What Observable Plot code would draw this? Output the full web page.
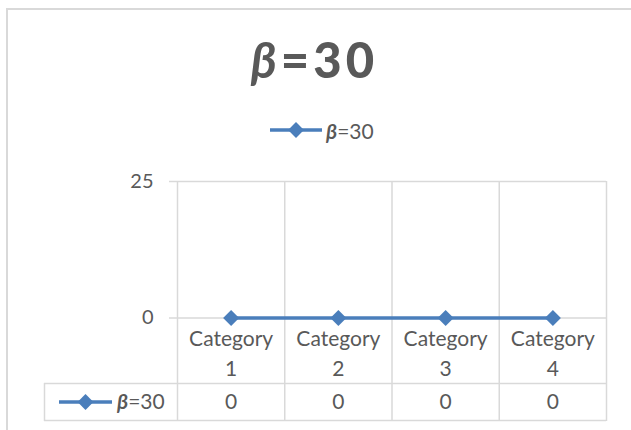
<!DOCTYPE html>
<html>
<head>
<meta charset="utf-8">
<script src="https://cdn.jsdelivr.net/npm/d3@7"></script>
<script src="https://cdn.jsdelivr.net/npm/@observablehq/plot@0.6"></script>
<style>
  html, body { margin: 0; padding: 0; background: #fff; overflow: hidden; }
  #chart { position: relative; width: 631px; height: 430px; overflow: hidden;
           font-family: Lato, "Open Sans", sans-serif; color: #595959; }
  #border { position: absolute; left: 6px; top: 8px; width: 800px; height: 600px;
            border-left: 2px solid #d9d9d9; border-top: 2px solid #d9d9d9; }
  #title { position: absolute; left: 0; width: 625px; top: 35px; text-align: center;
           font-size: 49px; font-weight: 900; letter-spacing: 4px; padding-left: 4px;
           box-sizing: border-box; line-height: 1; }
  #legend { position: absolute; left: 270px; top: 118px; height: 24px;
            display: flex; align-items: center; font-size: 21px; }
  #legend svg { margin-right: 4px; }
  .beta { font-weight: 700; font-style: italic; }
  #plot { position: absolute; left: 0; top: 150px; }
</style>
</head>
<body>
<div id="chart">
  <div id="border"></div>
  <div id="title"></div>
  <div id="legend"></div>
  <div id="plot"></div>
</div>
<script>
// Series and categories
const categories = ["Category 1", "Category 2", "Category 3", "Category 4"];
const seriesName = "β=30";
const values = [0, 0, 0, 0];
const yTicks = [0, 25];

const blue = "#4a7ebb";
const grid = "#d9d9d9";
const ink = "#595959";

// Title and legend with the Greek letter set in bold italic
function betaLabel(el) {
  el.append("span").attr("class", "beta").text(seriesName.slice(0, 1));
  el.append("span").text(seriesName.slice(1));
}
betaLabel(d3.select("#title"));

const legend = d3.select("#legend");
const key = legend.append("svg").attr("width", 52).attr("height", 20);
key.append("line").attr("x1", 0).attr("x2", 52).attr("y1", 10).attr("y2", 10)
   .attr("stroke", blue).attr("stroke-width", 3.5);
key.append("path").attr("transform", "translate(26,10)")
   .attr("d", d3.symbol(d3.symbolDiamond2, 160)()).attr("fill", blue);
betaLabel(legend.append("span"));

const data = categories.map((c, i) => ({category: c, index: i + 1, value: values[i]}));
const bounds = d3.range(categories.length + 1).map(i => i + 0.5);

// Data table under the axis: borders and the series key in the first column
function dataTable(index, scales, channels, dims) {
  const {width, height, marginRight, marginBottom} = dims;
  const bottom = height - marginBottom;
  const top = bottom - 38;
  const left = 44;
  const right = width - marginRight;
  const g = d3.create("svg:g");
  g.append("path")
    .attr("d", `M${left},${top + 0.5}H${right}M${left},${bottom - 0.5}H${right}M${left + 0.5},${top}V${bottom}`)
    .attr("fill", "none").attr("stroke", grid).attr("stroke-width", 1.5);
  const cy = (top + bottom) / 2;
  const k0 = 59, k1 = 112;
  g.append("line").attr("x1", k0).attr("x2", k1).attr("y1", cy).attr("y2", cy)
    .attr("stroke", blue).attr("stroke-width", 3.5);
  g.append("path").attr("transform", `translate(${(k0 + k1) / 2},${cy})`)
    .attr("d", d3.symbol(d3.symbolDiamond2, 160)()).attr("fill", blue);
  const t = g.append("text").attr("x", 117).attr("y", cy).attr("dy", "0.35em")
    .attr("text-anchor", "start").attr("fill", ink).attr("font-size", 21);
  t.append("tspan").attr("font-weight", 700).attr("font-style", "italic").text(seriesName.slice(0, 1));
  t.append("tspan").text(seriesName.slice(1));
  return g.node();
}

const plot = Plot.plot({
  width: 631,
  height: 280,
  marginTop: 31,
  marginBottom: 9,
  marginLeft: 177,
  marginRight: 25,
  style: {fontFamily: "Lato, 'Open Sans', sans-serif", fontSize: "21px", color: ink, background: "transparent"},
  x: {domain: [0.5, categories.length + 0.5], axis: null},
  y: {domain: [0, 25], range: [167.5, 31], axis: null},
  marks: [
    // vertical grid between categories, running through the labels and table
    Plot.ruleX(bounds, {stroke: grid, strokeWidth: 1.5}),
    // horizontal gridlines with short ticks to the left
    Plot.ruleY(yTicks, {stroke: grid, strokeWidth: 1.5, insetLeft: -8}),
    Plot.text(yTicks, {y: d => d, frameAnchor: "left", dx: -24, textAnchor: "end", fill: ink, fontSize: 20}),
    // category labels on two lines
    Plot.text(data, {x: "index", frameAnchor: "bottom", text: d => d.category.replace(" ", "\n"),
      lineAnchor: "middle", lineHeight: 1.42, dy: -70, fill: ink}),
    // table values
    Plot.text(data, {x: "index", frameAnchor: "bottom", text: d => String(d.value),
      lineAnchor: "middle", dy: -19, fill: ink}),
    dataTable,
    // series line with diamond markers
    Plot.line(data, {x: "index", y: "value", stroke: blue, strokeWidth: 3.5}),
    Plot.dot(data, {x: "index", y: "value", symbol: "diamond2", r: 7.2, fill: blue, stroke: "none"})
  ]
});
document.getElementById("plot").append(plot);
</script>
</body>
</html>
